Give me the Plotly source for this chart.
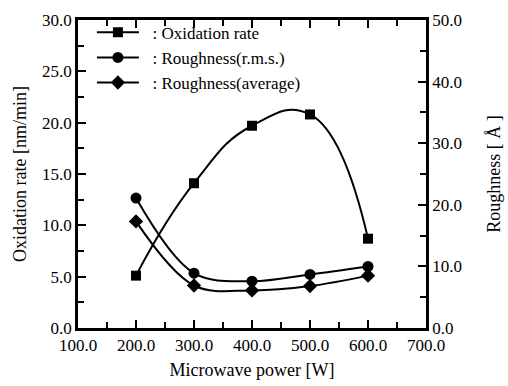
import plotly.graph_objects as go

power = [200, 300, 400, 500, 600]
oxidation_rate = [5.1, 14.1, 19.7, 20.8, 8.7]
roughness_rms = [21.1, 8.9, 7.6, 8.7, 10.0]
roughness_avg = [17.3, 6.9, 6.1, 6.8, 8.5]

x_ticks = [100, 200, 300, 400, 500, 600, 700]
y_left_ticks = [0, 5, 10, 15, 20, 25, 30]
y_right_ticks = [0, 10, 20, 30, 40, 50]

font_family = "Liberation Serif"
pad = "\u00a0\u00a0"

fig = go.Figure()
fig.add_trace(go.Scatter(
    x=power, y=oxidation_rate, name=pad + ": Oxidation rate", mode="lines+markers",
    line=dict(color="black", width=2, shape="spline", smoothing=1.3),
    marker=dict(symbol="square", size=10, color="black"), yaxis="y"))
fig.add_trace(go.Scatter(
    x=power, y=roughness_rms, name=pad + ": Roughness(r.m.s.)", mode="lines+markers",
    line=dict(color="black", width=2, shape="spline", smoothing=1.0),
    marker=dict(symbol="circle", size=11, color="black"), yaxis="y2"))
fig.add_trace(go.Scatter(
    x=power, y=roughness_avg, name=pad + ": Roughness(average)", mode="lines+markers",
    line=dict(color="black", width=2, shape="spline", smoothing=1.0),
    marker=dict(symbol="diamond", size=11, color="black"), yaxis="y2"))

axis_common = dict(
    showgrid=False, zeroline=False, showline=True, linecolor="black", linewidth=2.5,
    ticks="inside", ticklen=8, tickwidth=2, tickcolor="black",
    tickfont=dict(family=font_family, size=17, color="black"),
)

fig.update_layout(
    width=508, height=386,
    margin=dict(l=78, r=82, t=20, b=58, autoexpand=False),
    paper_bgcolor="white", plot_bgcolor="white",
    font=dict(family=font_family, size=17, color="black"),
    showlegend=True,
    legend=dict(x=0.04, y=1.017, xanchor="left", yanchor="top",
                bgcolor="rgba(0,0,0,0)", font=dict(family=font_family, size=17),
                tracegroupgap=0, itemwidth=42),
    xaxis=dict(**axis_common, range=[100, 700], tickvals=x_ticks,
               ticktext=[f"{v:.1f}" for v in x_ticks], mirror="ticks",
               minor=dict(dtick=50, ticks="inside", ticklen=6, tickwidth=2, tickcolor="black"),
               title=dict(text="Microwave power [W]", standoff=10,
                          font=dict(family=font_family, size=18))),
    yaxis=dict(**axis_common, range=[0, 30], tickvals=y_left_ticks,
               ticktext=[f"{v:.1f}" for v in y_left_ticks],
               minor=dict(dtick=2.5, ticks="inside", ticklen=6, tickwidth=2, tickcolor="black"),
               title=dict(text="Oxidation rate [nm/min]", standoff=11,
                          font=dict(family=font_family, size=18))),
    yaxis2=dict(**axis_common, range=[0, 50], tickvals=y_right_ticks,
                ticktext=[f"{v:.1f}" for v in y_right_ticks],
                overlaying="y", side="right",
                minor=dict(dtick=5, ticks="inside", ticklen=6, tickwidth=2, tickcolor="black"),
                title=dict(text="Roughness [ Å ]", standoff=27,
                           font=dict(family=font_family, size=18))),
)

fig.write_html("out.html", config={"displayModeBar": False},
               post_script="document.body.style.margin='0px';")
